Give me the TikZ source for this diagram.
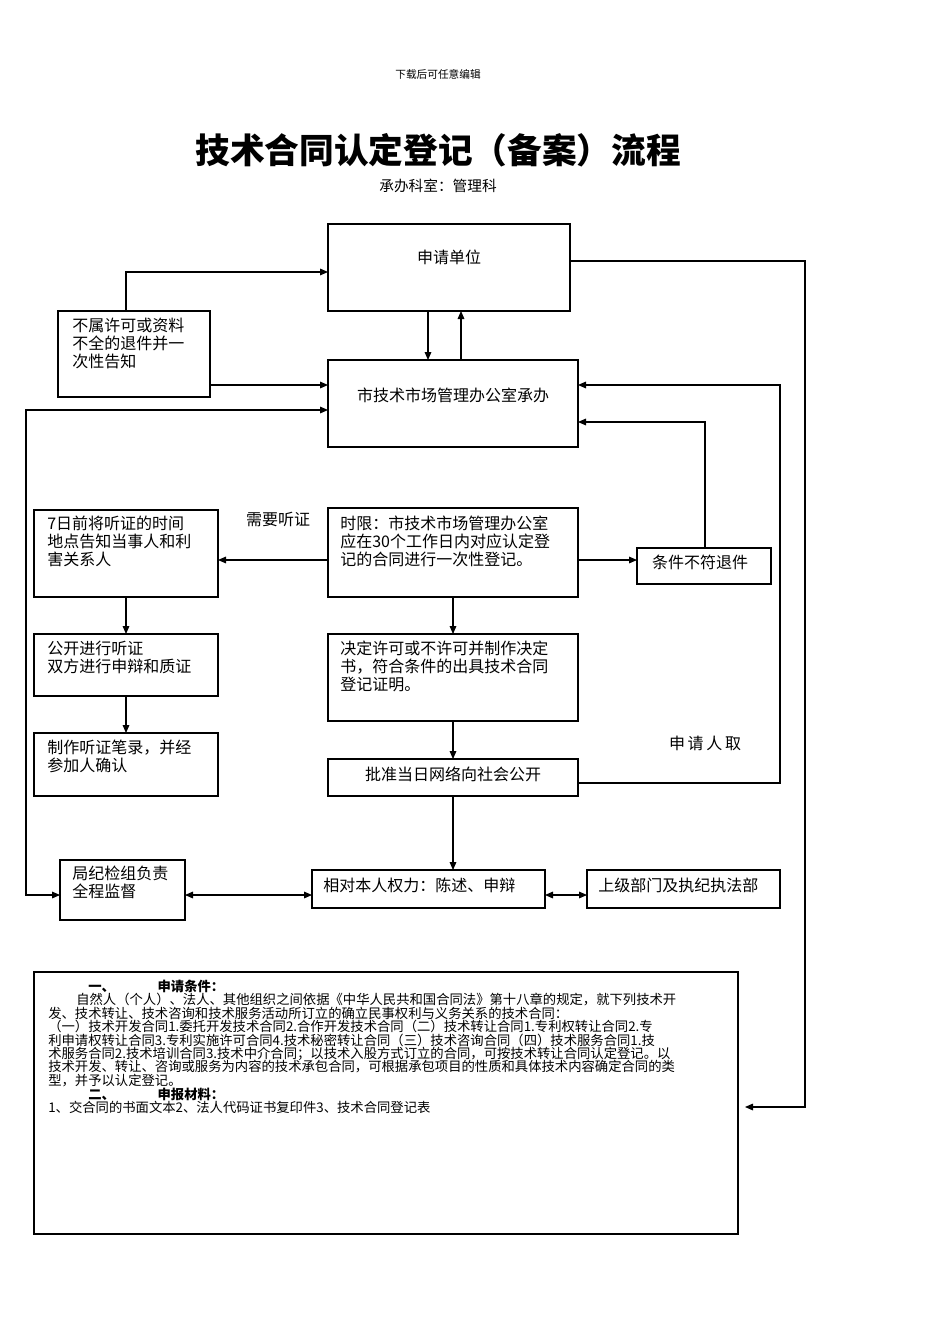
\documentclass[tikz,border=0pt]{standalone}
\usepackage{fontspec}
\setmainfont{Noto Sans CJK SC}
\usetikzlibrary{arrows.meta}
\begin{document}
\begin{tikzpicture}[x=0.75pt,y=-0.75pt,
  bx/.style={draw,line width=0.8pt},
  tx/.style={anchor=north west,align=left,inner sep=0pt,font=\fontsize{12}{13.5}\selectfont},
  ln/.style={line width=0.8pt},
  ar/.style={ln,-{Triangle[length=6pt,width=5pt]}},
  dar/.style={ln,{Triangle[length=6pt,width=5pt]}-{Triangle[length=6pt,width=5pt]}},
  bt/.style={anchor=west,inner sep=0pt,font=\fontsize{10}{11}\selectfont}]
\useasboundingbox (0,0) rectangle (950,1344);
\node[font=\fontsize{8}{9}\selectfont] (hd) at (438,74) {下载后可任意编辑};
\node[font=\fontsize{26}{28}\selectfont\bfseries] (ti) at (438,150) {技术合同认定登记（备案）流程};
\node[font=\fontsize{11}{12}\selectfont] (st) at (438,186) {承办科室：管理科};
% boxes
\draw[bx] (328,224) rectangle (570,311); \node[tx,anchor=center] (A) at (449,257) {申请单位};
\draw[bx] (58,311) rectangle (210,397); \node[tx] (B) at (72,318) {不属许可或资料\\不全的退件并一\\次性告知};
\draw[bx] (328,360) rectangle (578,447); \node[tx,anchor=center] (C) at (453,395) {市技术市场管理办公室承办};
\draw[bx] (328,508) rectangle (578,597); \node[tx] (D) at (340,516) {时限：市技术市场管理办公室\\应在30个工作日内对应认定登\\记的合同进行一次性登记。};
\draw[bx] (34,510) rectangle (218,597); \node[tx] (E) at (47,516) {7日前将听证的时间\\地点告知当事人和利\\害关系人};
\node[tx,anchor=center] (ting) at (278,519) {需要听证};
\draw[bx] (637,548) rectangle (771,584); \node[tx,anchor=center] (F) at (700,562) {条件不符退件};
\draw[bx] (34,634) rectangle (218,696); \node[tx] (G) at (47,641) {公开进行听证\\双方进行申辩和质证};
\draw[bx] (328,634) rectangle (578,721); \node[tx] (H) at (340,641) {决定许可或不许可并制作决定\\书，符合条件的出具技术合同\\登记证明。};
\draw[bx] (34,733) rectangle (218,796); \node[tx] (I) at (47,740) {制作听证笔录，并经\\参加人确认};
\draw[bx] (328,759) rectangle (578,796); \node[tx,anchor=center] (J) at (453,774) {批准当日网络向社会公开};
\node[tx,anchor=center] (qj) at (705,743) {申\,请\,人\,取};
\draw[bx] (60,860) rectangle (185,920); \node[tx] (K) at (72,866) {局纪检组负责\\全程监督};
\draw[bx] (312,870) rectangle (545,908); \node[tx] (L) at (323,878) {相对本人权力：陈述、申辩};
\draw[bx] (587,870) rectangle (780,908); \node[tx] (M) at (598,878) {上级部门及执纪执法部};
\draw[bx] (34,972) rectangle (738,1234);
% connectors
\draw[ar] (126,311) -- (126,272) -- (328,272);
\draw[ar] (210,385) -- (328,385);
\draw[ar] (428,311) -- (428,360);
\draw[ar] (461,360) -- (461,311);
\draw[ar] (570,261) -- (805,261) -- (805,1107) -- (745,1107);
\draw[dar] (328,410) -- (26,410) -- (26,895) -- (60,895);
\draw[ar] (328,560) -- (218,560);
\draw[ar] (578,560) -- (637,560);
\draw[ar] (705,548) -- (705,422) -- (578,422);
\draw[ar] (578,783) -- (780,783) -- (780,385) -- (578,385);
\draw[ar] (126,597) -- (126,634);
\draw[ar] (126,696) -- (126,733);
\draw[ar] (453,597) -- (453,634);
\draw[ar] (453,721) -- (453,759);
\draw[ar] (453,796) -- (453,870);
\draw[dar] (185,895) -- (312,895);
\draw[dar] (545,895) -- (587,895);
% bottom text
\node[bt] (t1) at (88,986) {\bfseries 一、\hspace{3.2em}申请条件：};
\node[bt] (t2) at (76,999.5) {自然人（个人）、法人、其他组织之间依据《中华人民共和国合同法》第十八章的规定，就下列技术开};
\node[bt] (t3) at (48,1013) {发、技术转让、技术咨询和技术服务活动所订立的确立民事权利与义务关系的技术合同：};
\node[bt] (t4) at (48,1026.5) {（一）技术开发合同1.委托开发技术合同2.合作开发技术合同（二）技术转让合同1.专利权转让合同2.专};
\node[bt] (t5) at (48,1040) {利申请权转让合同3.专利实施许可合同4.技术秘密转让合同（三）技术咨询合同（四）技术服务合同1.技};
\node[bt] (t6) at (48,1053.5) {术服务合同2.技术培训合同3.技术中介合同；以技术入股方式订立的合同，可按技术转让合同认定登记。以};
\node[bt] (t7) at (48,1067) {技术开发、转让、咨询或服务为内容的技术承包合同，可根据承包项目的性质和具体技术内容确定合同的类};
\node[bt] (t8) at (48,1080.5) {型，并予以认定登记。};
\node[bt] (t9) at (88,1094) {\bfseries 二、\hspace{3.2em}申报材料：};
\node[bt] (t10) at (48,1107.5) {1、交合同的书面文本2、法人代码证书复印件3、技术合同登记表};
\end{tikzpicture}
\end{document}
